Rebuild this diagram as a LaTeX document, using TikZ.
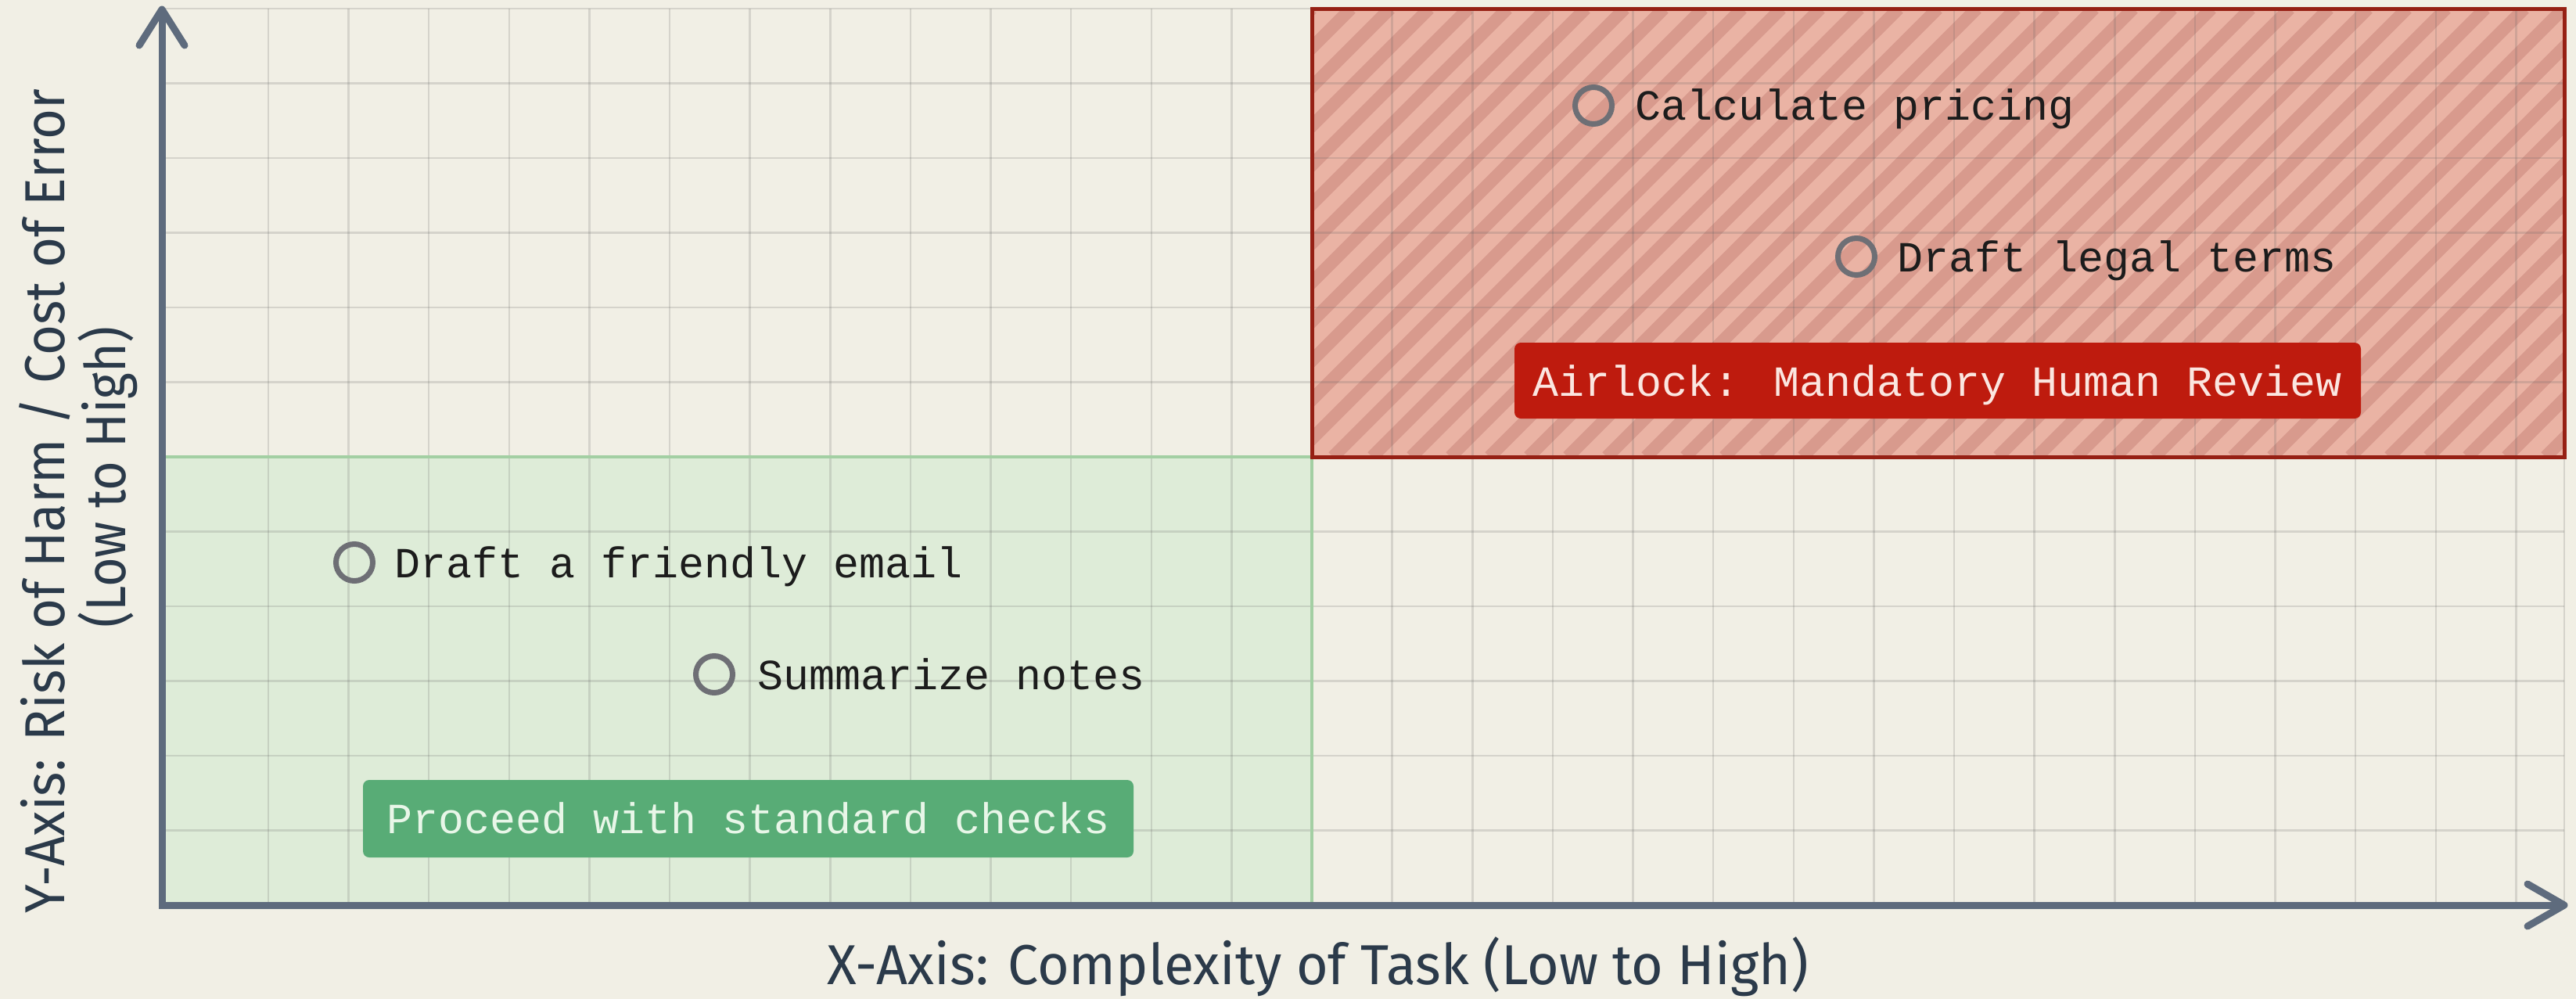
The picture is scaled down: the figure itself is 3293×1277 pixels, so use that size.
\documentclass[tikz,border=0pt]{standalone}
\usepackage{fontspec}
\usepackage{graphicx}
\setmainfont{Fira Sans}
\newfontfamily\monofont{Liberation Mono}

\definecolor{paper}{HTML}{F1EFE5}
\definecolor{axiscol}{HTML}{5E6B7D}
\definecolor{axistext}{HTML}{2B3A4A}
\definecolor{safefill}{HTML}{DEECD8}
\definecolor{safeedge}{HTML}{A3CFA3}
\definecolor{safelabel}{HTML}{58AC76}
\definecolor{safetext}{HTML}{E8F6E8}
\definecolor{riskfill}{HTML}{EAB3A4}
\definecolor{riskstripe}{HTML}{D89A8D}
\definecolor{riskedge}{HTML}{962014}
\definecolor{risklabel}{HTML}{BE1B0E}
\definecolor{risktext}{HTML}{FBE6E0}
\definecolor{marker}{HTML}{6E6F75}
\definecolor{tasktext}{HTML}{1C1C1C}

\begin{document}
\begin{tikzpicture}[x=1pt,y=-1pt,
  gridline/.style={draw=black!60, draw opacity=0.2, line width=2.5pt},
  axisline/.style={draw=axiscol, line width=9pt},
  chevron/.style={draw=axiscol, line width=9pt, line cap=round, line join=round},
  dot/.style={draw=marker, line width=7pt, circle, minimum size=47pt, inner sep=0pt},
  task/.style={font=\monofont\fontsize{55}{60}\selectfont, text=tasktext, anchor=base west, inner sep=0pt},
  tagbox/.style={rounded corners=8pt, inner sep=0pt},
  tagtext/.style={font=\monofont\fontsize{55}{60}\selectfont, anchor=base, inner sep=0pt},
  axislabel/.style={font=\fontsize{72}{80}\selectfont, text=axistext, inner sep=0pt, anchor=base}
]
% page and background
\useasboundingbox (0,0) rectangle (3293,1277);
\fill[paper] (0,0) rectangle (3293,1277);

% corner points of the chart
\coordinate (origin) at (207,1157);
\coordinate (ytip) at (207,12);
\coordinate (xtip) at (3278,1157);

% low-risk zone and high-risk zone fills
\fill[safefill] (207,584) rectangle (1677,1157);
\fill[riskfill] (1677,11) rectangle (3278,584);
\begin{scope}
  \clip (1677,11) rectangle (3278,584);
  \foreach \s in {1054,1104,...,3304}
    \draw[riskstripe, line width=16pt] (\s,584) -- ({\s+573},11);
\end{scope}

% grid
\foreach \k in {0,...,28}
  \draw[gridline] ({343+102.62*\k},11) -- ({343+102.62*\k},1157);
\foreach \j in {0,...,11}
  \draw[gridline] (207,{11+95.5*\j}) -- (3278,{11+95.5*\j});
\draw[gridline] (3278,11) -- (3278,1157);

% zone borders
\draw[safeedge, line width=4pt] (207,584) -- (1677,584) -- (1677,1157);
\draw[riskedge, line width=5pt] (1677,11) rectangle (3278,584);

% axes
\draw[axisline, line join=miter] ([yshift=-6pt]ytip) -- (origin) -- ([xshift=-6pt]xtip);
\draw[chevron] (ytip) ++(-29,46) -- (ytip) -- ++(29,46);
\draw[chevron] (xtip) ++(-47,-27) -- (xtip) -- ++(-47,27);

% zone labels
\node[tagbox, fill=risklabel, minimum width=1082pt, minimum height=97pt] (airlock) at (2477,486.5) {};
\node[tagtext, text=risktext] (airlocktext) at (2477,506) {Airlock: Mandatory Human Review};
\node[tagbox, fill=safelabel, minimum width=985pt, minimum height=99pt] (proceed) at (956.5,1046.5) {};
\node[tagtext, text=safetext] (proceedtext) at (956.5,1065) {Proceed with standard checks};

% tasks
\node[dot] (pricing) at (2037,135) {};
\node[task] (pricingtext) at (2090,153) {Calculate pricing};
\node[dot] (legal) at (2373,328) {};
\node[task] (legaltext) at (2425,347) {Draft legal terms};
\node[dot] (email) at (453,719) {};
\node[task] (emailtext) at (504,738) {Draft a friendly email};
\node[dot] (notes) at (913,862) {};
\node[task] (notestext) at (968,881) {Summarize notes};

% axis titles
\node[axislabel] (xlabel) at (1685,1258) {\resizebox{1254pt}{\height}{X-Axis: Complexity of Task (Low to High)}};
\node[axislabel, rotate=90] (ylabel) at (82,640.5) {\resizebox{1053pt}{\height}{Y-Axis: Risk of Harm / Cost of Error}};
\node[axislabel, rotate=90] (yrange) at (160,610) {\resizebox{385pt}{\height}{(Low to High)}};
\end{tikzpicture}
\end{document}
